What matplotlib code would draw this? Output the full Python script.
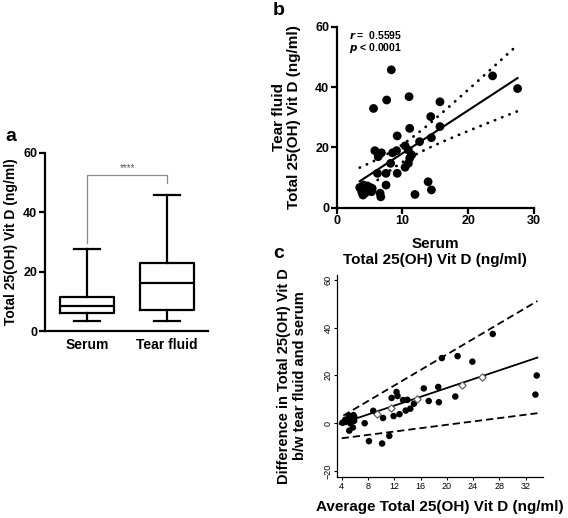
import matplotlib
matplotlib.use('Agg')
import matplotlib.pyplot as plt
import numpy as np

plt.rcParams['font.family'] = ['Liberation Sans', 'DejaVu Sans']

W, H, DPI = 568, 518, 100

# ---------------- data ----------------
# panel a: box plot summaries (min, q1, median, q3, max)
groups = ['Serum', 'Tear fluid']
serum_box = [3.2, 5.9, 8.3, 11.3, 27.5]
tear_box = [3.2, 7.0, 16.3, 22.8, 45.8]
sig_label = '****'
sig_y = 52.5
sig_left_low = 29.7
sig_right_low = 49.9

# panel b: paired measurements
serum = [8.3, 27.5, 23.7, 7.6, 11.0, 5.6, 15.7, 14.3, 15.7, 11.1, 9.2, 14.4,
         12.6, 10.4, 5.8, 6.8, 6.3, 8.5, 9.1, 10.9, 11.4, 11.1, 8.2, 10.9,
         10.4, 6.2, 7.5, 9.2, 7.5, 13.9, 14.4, 11.9, 6.6, 6.7, 3.5, 4.1, 4.6,
         3.8, 4.3, 4.9, 5.3, 4.0, 4.7, 5.4]
tear = [45.7, 39.5, 43.7, 35.7, 36.8, 32.9, 35.1, 30.2, 26.9, 26.3, 23.8, 23.2,
        21.9, 20.5, 18.9, 18.2, 16.9, 18.2, 18.9, 19.1, 17.5, 16.4, 14.7, 14.7,
        13.4, 11.4, 11.4, 11.4, 7.5, 8.6, 5.9, 4.4, 4.8, 3.6, 6.7, 7.5, 6.4,
        5.3, 4.8, 5.6, 5.3, 4.2, 7.2, 6.4]
r_label = '0.5595'
p_label = '0.0001'
t_crit = 2.018  # 95% two-sided, n-2 dof

# panel c: points drawn hollow (indices into the paired data)
hollow_idx = [6, 7, 13, 22, 26]
# panel c: regression line and limits
ba_fit_x = [3.7, 33.8]
ba_fit_y = [-0.3, 27.5]
ba_up_x = [4.25, 33.8]
ba_up_y = [3.2, 51.2]
ba_lo_x = [4.0, 33.8]
ba_lo_y = [-6.3, 4.2]

# ---------------- layout helpers ----------------
fig = plt.figure(figsize=(W / DPI, H / DPI), dpi=DPI)


def rect(l, t, r, b):
    return [l / W, 1 - b / H, (r - l) / W, (b - t) / H]


def prism_axes(ax):
    for s in ['top', 'right']:
        ax.spines[s].set_visible(False)
    for s in ['left', 'bottom']:
        ax.spines[s].set_linewidth(1.6)
    ax.tick_params(direction='out', length=4, width=1.6, labelsize=9, pad=1.5)
    for lab in ax.get_xticklabels() + ax.get_yticklabels():
        lab.set_fontweight('bold')


# ---------------- panel a ----------------
axa = fig.add_axes(rect(45, 152.7, 208, 331))
stats = []
for name, v in zip(groups, [serum_box, tear_box]):
    stats.append(dict(whislo=v[0], q1=v[1], med=v[2], q3=v[3], whishi=v[4],
                      fliers=[], label=name))
lp = dict(color='black', linewidth=1.6)
axa.bxp(stats, positions=[1, 2], widths=0.675, capwidths=0.33, showfliers=False,
        boxprops=lp, whiskerprops=lp, capprops=lp, medianprops=lp)
axa.set_xlim(0.475, 2.51)
axa.set_ylim(0, 60)
axa.set_yticks([0, 20, 40, 60])
axa.set_xticks([1, 2])
axa.set_xticklabels(groups)
prism_axes(axa)
axa.tick_params(axis='x', length=0, pad=5, labelsize=10)
axa.set_ylabel('Total 25(OH) Vit D (ng/ml)', fontsize=10, fontweight='bold', labelpad=4)
axa.plot([1, 1, 2, 2], [sig_left_low, sig_y, sig_y, sig_right_low], color='#8a8a8a',
         lw=0.9, clip_on=False)
axa.text(1.5, sig_y + 0.6, sig_label, ha='center', va='bottom', fontsize=7,
         color='#555555')
fig.text(5 / W, 1 - 141 / H, 'a', fontsize=14, fontweight='bold', ha='left', va='baseline')

# ---------------- panel b ----------------
axb = fig.add_axes(rect(336.7, 26.7, 534, 207.7))
xs = np.array(serum)
ys = np.array(tear)
axb.scatter(xs, ys, s=40, color='black', edgecolors='none', zorder=3, clip_on=False)
n = len(xs)
slope, icpt = np.polyfit(xs, ys, 1)
xx = np.linspace(xs.min(), xs.max(), 100)
yy = slope * xx + icpt
resid = ys - (slope * xs + icpt)
se = np.sqrt(np.sum(resid ** 2) / (n - 2))
sxx = np.sum((xs - xs.mean()) ** 2)
half = t_crit * se * np.sqrt(1 / n + (xx - xs.mean()) ** 2 / sxx)
axb.plot(xx, yy, color='black', lw=1.5, zorder=4)
for sign in (1, -1):
    axb.plot(xx, yy + sign * half, color='black', lw=2.0,
             linestyle=(0, (0.1, 2.7)), dash_capstyle='round', zorder=4)
axb.set_xlim(0, 30)
axb.set_ylim(0, 60)
axb.set_xticks([0, 10, 20, 30])
axb.set_yticks([0, 20, 40, 60])
prism_axes(axb)
axb.set_ylabel('Tear fluid\nTotal 25(OH) Vit D (ng/ml)', fontsize=11,
               fontweight='bold', labelpad=10, linespacing=1.05)
axb.set_xlabel('Serum\nTotal 25(OH) Vit D (ng/ml)', fontsize=11,
               fontweight='bold', labelpad=7, linespacing=1.15)
axb.text(0.06, 0.955, r'$\mathbfit{r}$' + ' =  ' + r_label, transform=axb.transAxes,
         fontsize=7.5, fontweight='bold', va='center')
axb.text(0.06, 0.88, r'$\mathbfit{p}$' + ' < ' + p_label, transform=axb.transAxes,
         fontsize=7.5, fontweight='bold', va='center')
fig.text(273 / W, 1 - 15 / H, 'b', fontsize=14, fontweight='bold', ha='left', va='baseline')

# ---------------- panel c ----------------
axc = fig.add_axes(rect(337.3, 275, 543.3, 476.7))
avg = (xs + ys) / 2
diff = ys - xs
solid = np.ones(n, dtype=bool)
solid[hollow_idx] = False
axc.scatter(avg[solid], diff[solid], s=22, color='black', edgecolors='none', zorder=3)
axc.scatter(avg[~solid], diff[~solid], s=14, marker='D', facecolors='white',
            edgecolors='#555555', linewidths=0.8, zorder=5)
axc.plot(ba_fit_x, ba_fit_y, color='black', lw=1.3, zorder=4)
axc.plot(ba_up_x, ba_up_y, color='black', lw=1.3, linestyle=(0, (4, 2.2)), zorder=4)
axc.plot(ba_lo_x, ba_lo_y, color='black', lw=1.3, linestyle=(0, (4, 2.2)), zorder=4)
axc.set_xlim(3.33, 34.7)
axc.set_ylim(-22.4, 62.1)
axc.set_xticks(np.arange(4, 33, 4))
axc.set_yticks([-20, 0, 20, 40, 60])
for s in ['top', 'right']:
    axc.spines[s].set_visible(False)
for s in ['left', 'bottom']:
    axc.spines[s].set_linewidth(0.9)
axc.tick_params(direction='out', length=2.5, width=0.8, labelsize=6.5, pad=1)
plt.setp(axc.get_yticklabels(), rotation=90, va='center')
axc.set_xlabel('Average Total 25(OH) Vit D (ng/ml)', fontsize=11,
               fontweight='bold', labelpad=7)
axc.set_ylabel('Difference in Total 25(OH) Vit D\nb/w tear fluid and serum',
               fontsize=10.5, fontweight='bold', labelpad=12, linespacing=1.15)
fig.text(273 / W, 1 - 258 / H, 'c', fontsize=14, fontweight='bold', ha='left', va='baseline')

fig.savefig('out.png', dpi=DPI)
